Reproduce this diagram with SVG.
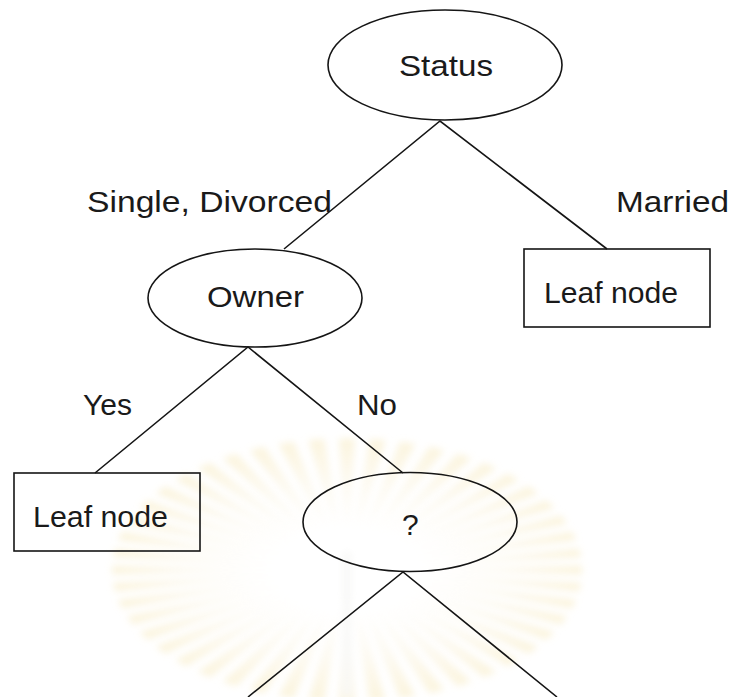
<svg xmlns="http://www.w3.org/2000/svg" xmlns:xlink="http://www.w3.org/1999/xlink" width="732" height="697" viewBox="0 0 732 697">
  <style>
    .shape { fill: none; stroke: #151515; stroke-width: 1.6; }
    .edge { stroke: #151515; stroke-width: 1.6; fill: none; }
    .label { font-family: "Liberation Sans", Arial, sans-serif; font-size: 30px; fill: #1a1a1a; }
  </style>
  <defs>
    <radialGradient id="rayFill" gradientUnits="userSpaceOnUse" cx="0" cy="0" r="240">
      <stop offset="0.3" stop-color="#ffffff"/>
      <stop offset="0.65" stop-color="#fbf5e3"/>
      <stop offset="1" stop-color="#f7e9bb"/>
    </radialGradient>
    <filter id="soft" x="-20%" y="-20%" width="140%" height="140%">
      <feGaussianBlur stdDeviation="3.5"/>
    </filter>
    <polygon id="ray" points="-2,-55 2,-55 8,-235 -8,-235"/>
  </defs>

  <rect width="732" height="697" fill="#ffffff"/>

  <!-- faint sunburst emblem in the background -->
  <g id="emblem" filter="url(#soft)" opacity="0.5">
    <g transform="translate(347,570) scale(1,0.56)" fill="url(#rayFill)">
      <use xlink:href="#ray" transform="rotate(0)"/>
      <use xlink:href="#ray" transform="rotate(7.5)"/>
      <use xlink:href="#ray" transform="rotate(15)"/>
      <use xlink:href="#ray" transform="rotate(22.5)"/>
      <use xlink:href="#ray" transform="rotate(30)"/>
      <use xlink:href="#ray" transform="rotate(37.5)"/>
      <use xlink:href="#ray" transform="rotate(45)"/>
      <use xlink:href="#ray" transform="rotate(52.5)"/>
      <use xlink:href="#ray" transform="rotate(60)"/>
      <use xlink:href="#ray" transform="rotate(67.5)"/>
      <use xlink:href="#ray" transform="rotate(75)"/>
      <use xlink:href="#ray" transform="rotate(82.5)"/>
      <use xlink:href="#ray" transform="rotate(90)"/>
      <use xlink:href="#ray" transform="rotate(97.5)"/>
      <use xlink:href="#ray" transform="rotate(105)"/>
      <use xlink:href="#ray" transform="rotate(112.5)"/>
      <use xlink:href="#ray" transform="rotate(120)"/>
      <use xlink:href="#ray" transform="rotate(127.5)"/>
      <use xlink:href="#ray" transform="rotate(135)"/>
      <use xlink:href="#ray" transform="rotate(142.5)"/>
      <use xlink:href="#ray" transform="rotate(150)"/>
      <use xlink:href="#ray" transform="rotate(157.5)"/>
      <use xlink:href="#ray" transform="rotate(165)"/>
      <use xlink:href="#ray" transform="rotate(172.5)"/>
      <use xlink:href="#ray" transform="rotate(180)"/>
      <use xlink:href="#ray" transform="rotate(187.5)"/>
      <use xlink:href="#ray" transform="rotate(195)"/>
      <use xlink:href="#ray" transform="rotate(202.5)"/>
      <use xlink:href="#ray" transform="rotate(210)"/>
      <use xlink:href="#ray" transform="rotate(217.5)"/>
      <use xlink:href="#ray" transform="rotate(225)"/>
      <use xlink:href="#ray" transform="rotate(232.5)"/>
      <use xlink:href="#ray" transform="rotate(240)"/>
      <use xlink:href="#ray" transform="rotate(247.5)"/>
      <use xlink:href="#ray" transform="rotate(255)"/>
      <use xlink:href="#ray" transform="rotate(262.5)"/>
      <use xlink:href="#ray" transform="rotate(270)"/>
      <use xlink:href="#ray" transform="rotate(277.5)"/>
      <use xlink:href="#ray" transform="rotate(285)"/>
      <use xlink:href="#ray" transform="rotate(292.5)"/>
      <use xlink:href="#ray" transform="rotate(300)"/>
      <use xlink:href="#ray" transform="rotate(307.5)"/>
      <use xlink:href="#ray" transform="rotate(315)"/>
      <use xlink:href="#ray" transform="rotate(322.5)"/>
      <use xlink:href="#ray" transform="rotate(330)"/>
      <use xlink:href="#ray" transform="rotate(337.5)"/>
      <use xlink:href="#ray" transform="rotate(345)"/>
      <use xlink:href="#ray" transform="rotate(352.5)"/>
    </g>
    <rect x="343" y="552" width="8" height="145" fill="#f2f2ef"/>
  </g>

  <!-- connectors -->
  <g id="connectors">
    <polyline class="edge" points="284,249 440,121 607,249"/>
    <polyline class="edge" points="95,473 248,347 403,473"/>
    <polyline class="edge" points="248,697 403,572 557,697"/>
  </g>

  <!-- branch labels -->
  <g id="edge-labels">
    <text class="label" x="87" y="212" font-size="31" textLength="245" lengthAdjust="spacingAndGlyphs">Single, Divorced</text>
    <text class="label" x="616" y="212" font-size="31" textLength="113" lengthAdjust="spacingAndGlyphs">Married</text>
    <text class="label" x="83" y="415" textLength="49" lengthAdjust="spacingAndGlyphs">Yes</text>
    <text class="label" x="357" y="415" textLength="40" lengthAdjust="spacingAndGlyphs">No</text>
  </g>

  <!-- nodes -->
  <g id="node-status">
    <ellipse class="shape" cx="445" cy="65" rx="117" ry="55"/>
    <text class="label" x="399" y="76" font-size="32" textLength="94" lengthAdjust="spacingAndGlyphs">Status</text>
  </g>
  <g id="node-owner">
    <ellipse class="shape" cx="255" cy="298" rx="107" ry="49"/>
    <text class="label" x="207" y="307" font-size="31" textLength="97" lengthAdjust="spacingAndGlyphs">Owner</text>
  </g>
  <g id="node-leaf-married">
    <rect class="shape" x="524" y="249" width="186" height="78"/>
    <text class="label" x="544" y="303" textLength="134" lengthAdjust="spacingAndGlyphs">Leaf node</text>
  </g>
  <g id="node-leaf-yes">
    <rect class="shape" x="14" y="473" width="186" height="78"/>
    <text class="label" x="33" y="527" textLength="135" lengthAdjust="spacingAndGlyphs">Leaf node</text>
  </g>
  <g id="node-unknown">
    <ellipse class="shape" cx="410" cy="522" rx="107" ry="49.5"/>
    <text class="label" x="402" y="535" font-size="32">?</text>
  </g>
</svg>
